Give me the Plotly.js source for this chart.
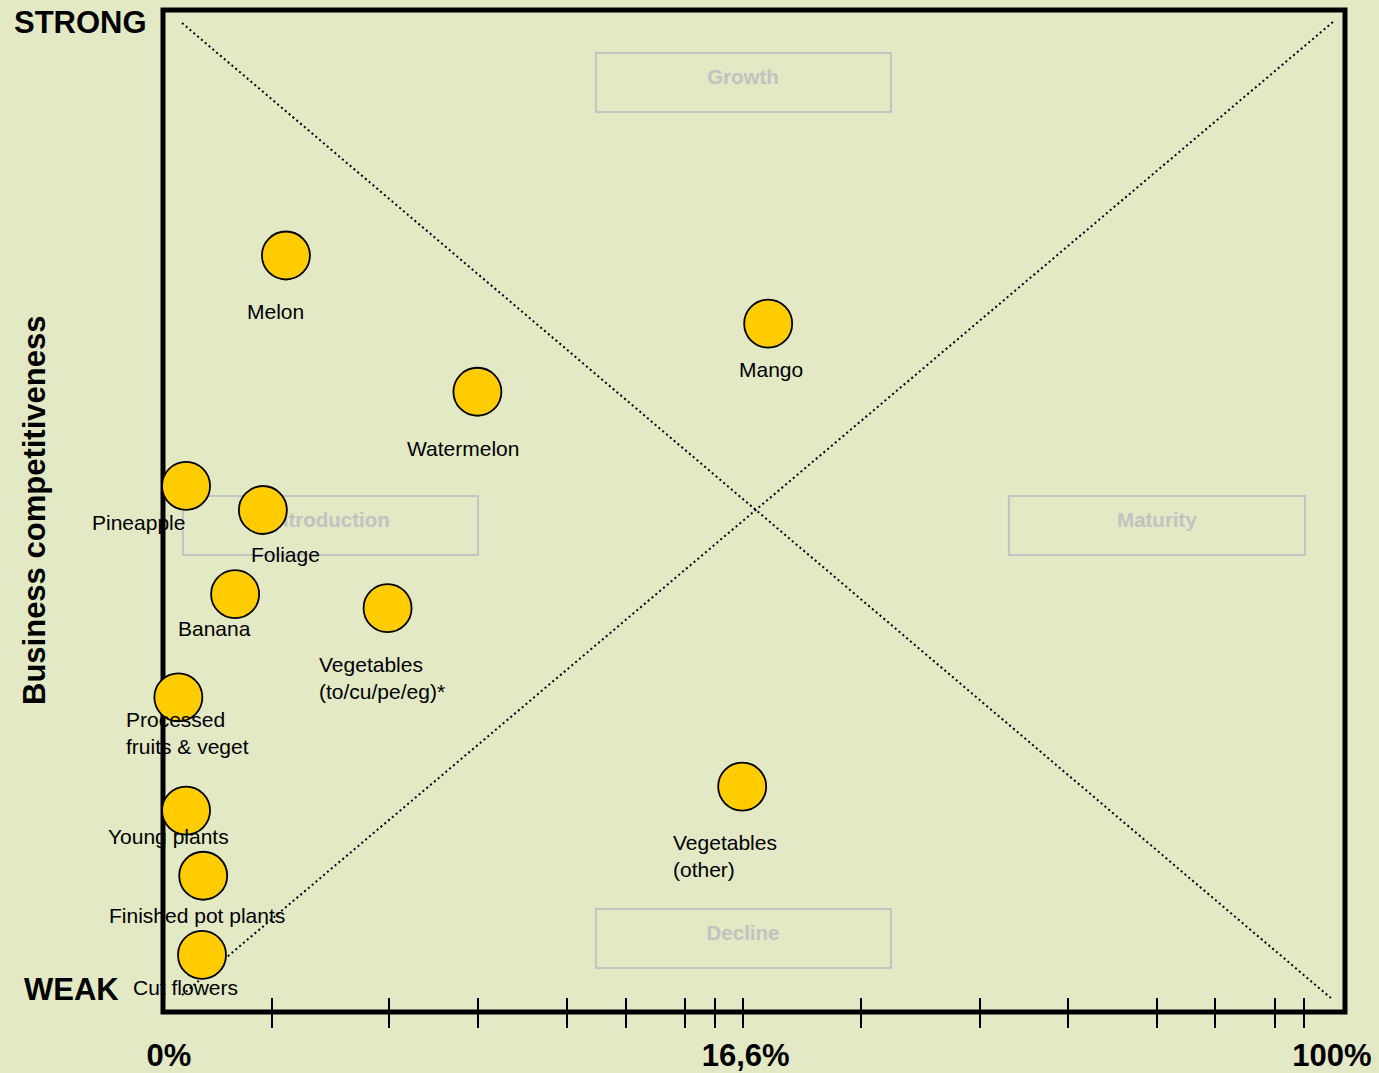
<!DOCTYPE html>
<html>
<head>
<meta charset="utf-8">
<script src="https://cdn.plot.ly/plotly-3.0.1.min.js"></script>
<style>
  html, body { margin: 0; padding: 0; background: #E2E9C4; }
  #chart { width: 1379px; height: 1073px; }
</style>
</head>
<body>
<div id="chart"></div>
<script>
// ---- Data (positions on a 0–100 chart scale) ----
const products = ['Melon', 'Mango', 'Watermelon', 'Pineapple', 'Foliage', 'Banana',
  'Vegetables<br>(to/cu/pe/eg)*', 'Processed<br>fruits & veget', 'Vegetables<br>(other)',
  'Young plants', 'Finished pot plants', 'Cut flowers'];
const marketPos = [10.4, 51.2, 26.6, 1.95, 8.45, 6.1, 19.0, 1.3, 49.0, 1.95, 3.4, 3.3];
const competitiveness = [75.5, 68.7, 61.9, 52.5, 50.1, 41.7, 40.3, 31.4, 22.5, 20.1, 13.6, 5.7];

const xTickVals = [9.18, 19.12, 26.65, 34.18, 39.17, 44.16, 46.66, 49.11, 59.09, 69.08, 76.57, 84.09, 89.04, 94.08, 96.57];
const xLabelVals = [0.5, 49.3, 98.9];
const xLabelText = ['0%', '16,6%', '100%'];

const phaseNames = ['Growth', 'Introduction', 'Maturity', 'Decline'];
const phaseTextX = [49.07, 14.13, 84.09, 49.07];
const phaseTextY = [93.1, 48.9, 48.9, 7.7];

const diagDownX = [1.61, 98.8], diagDownY = [98.7, 1.4];
const diagUpX = [1.61, 98.98], diagUpY = [1.7, 98.8];

// ---- Layout helpers (label offsets in px, boxes) ----
const labelStyle = [
  {dx: -10, dy: 56, a: 'center'}, {dx: 3, dy: 46, a: 'center'}, {dx: -14, dy: 57, a: 'center'},
  {dx: -48, dy: 37, a: 'center'}, {dx: 23, dy: 44, a: 'center'}, {dx: -21, dy: 34, a: 'center'},
  {dx: -71, dy: 70, a: 'left'}, {dx: -54, dy: 36, a: 'left'}, {dx: -71, dy: 69, a: 'left'},
  {dx: -18, dy: 26, a: 'center'}, {dx: -6, dy: 40, a: 'center'}, {dx: -17, dy: 33, a: 'center'}
];
const phaseBoxes = [
  [36.63, 89.82, 61.59, 95.71], [1.69, 45.61, 26.65, 51.50],
  [71.57, 45.61, 96.62, 51.50], [36.63, 4.39, 61.59, 10.28]
];

const BG = '#E2E9C4';
const FONT = 'Liberation Sans, Arial, Helvetica, sans-serif';

const traces = [
  {x: diagDownX, y: diagDownY, mode: 'lines', line: {color: '#000', width: 2, dash: '2px,3px'}, hoverinfo: 'skip', showlegend: false},
  {x: diagUpX, y: diagUpY, mode: 'lines', line: {color: '#000', width: 2, dash: '2px,3px'}, hoverinfo: 'skip', showlegend: false},
  {x: phaseTextX, y: phaseTextY, mode: 'text', text: phaseNames.map(t => '<b>' + t + '</b>'),
   textfont: {family: FONT, size: 20.5, color: '#C2C2C2'}, textposition: 'middle center', hoverinfo: 'skip', showlegend: false},
  {x: marketPos, y: competitiveness, mode: 'markers', cliponaxis: false,
   marker: {size: 48, color: '#FFCC00', line: {color: '#000', width: 1.8}},
   text: products, hoverinfo: 'text', showlegend: false},
  {x: xLabelVals, y: [50, 50, 50], xaxis: 'x2', mode: 'markers', marker: {opacity: 0}, hoverinfo: 'skip', showlegend: false},
  {x: xTickVals, y: xTickVals.map(() => 50), xaxis: 'x3', mode: 'markers', marker: {opacity: 0}, hoverinfo: 'skip', showlegend: false}
];

const annotations = products.map((p, i) => ({
  x: marketPos[i], y: competitiveness[i], xref: 'x', yref: 'y',
  text: p, showarrow: false, xanchor: labelStyle[i].a, yanchor: 'middle', align: 'left',
  xshift: labelStyle[i].dx, yshift: -labelStyle[i].dy,
  font: {family: FONT, size: 21, color: '#000'}
}));
annotations.push(
  {xref: 'paper', yref: 'paper', x: -0.0702, y: 0.988, text: '<b>STRONG</b>', showarrow: false,
   xanchor: 'center', yanchor: 'middle', font: {family: FONT, size: 31, color: '#000'}},
  {xref: 'paper', yref: 'paper', x: -0.077, y: 0.022, text: '<b>WEAK</b>', showarrow: false,
   xanchor: 'center', yanchor: 'middle', font: {family: FONT, size: 31, color: '#000'}},
  {xref: 'paper', yref: 'paper', x: -0.1083, y: 0.501, text: '<b>Business competitiveness</b>', showarrow: false,
   textangle: -90, xanchor: 'center', yanchor: 'middle', font: {family: FONT, size: 31, color: '#000'}}
);

const shapes = phaseBoxes.map(b => ({
  type: 'rect', xref: 'x', yref: 'y', x0: b[0], y0: b[1], x1: b[2], y1: b[3],
  line: {color: '#C4C4C4', width: 2}, fillcolor: 'rgba(0,0,0,0)', layer: 'below'
}));
shapes.push({type: 'rect', xref: 'paper', yref: 'paper', x0: 0, y0: 0, x1: 1, y1: 1,
  line: {color: '#000', width: 5}, fillcolor: 'rgba(0,0,0,0)', layer: 'below'});

const layout = {
  width: 1379, height: 1073,
  margin: {l: 163, r: 34, t: 10, b: 61},
  paper_bgcolor: BG, plot_bgcolor: BG,
  font: {family: FONT},
  xaxis: {range: [0, 100], showgrid: false, zeroline: false, showline: false, fixedrange: true,
          tickmode: 'array', tickvals: xTickVals, ticks: 'outside', ticklen: 15, tickwidth: 2,
          tickcolor: '#000', showticklabels: false},
  xaxis3: {range: [0, 100], overlaying: 'x', anchor: 'y', side: 'bottom', showgrid: false, zeroline: false, showline: false,
           tickmode: 'array', tickvals: xTickVals, ticks: 'inside', ticklen: 14, tickwidth: 2,
           tickcolor: '#000', showticklabels: false},
  xaxis2: {range: [0, 100], overlaying: 'x', anchor: 'y', side: 'bottom', showgrid: false, zeroline: false, showline: false,
           tickmode: 'array', tickvals: xLabelVals, ticktext: xLabelText, ticks: '',
           ticklabelstandoff: 22,
           tickfont: {family: FONT, size: 31, color: '#000', weight: 'bold'}},
  yaxis: {range: [0, 100], showgrid: false, zeroline: false, showline: false, showticklabels: false,
          ticks: '', fixedrange: true},
  shapes: shapes,
  annotations: annotations,
  hovermode: 'closest'
};

Plotly.newPlot('chart', traces, layout, {displayModeBar: false, staticPlot: true});
</script>
</body>
</html>
